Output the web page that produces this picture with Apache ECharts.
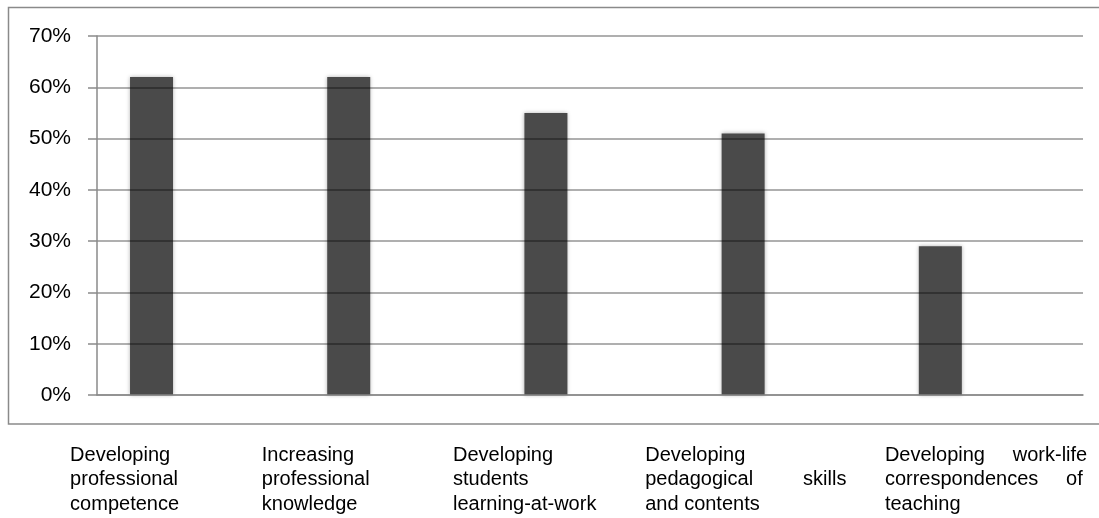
<!DOCTYPE html>
<html>
<head>
<meta charset="utf-8">
<script src="https://cdn.jsdelivr.net/npm/echarts@6/dist/echarts.min.js"></script>
<style>
  html, body { margin: 0; padding: 0; background: #ffffff; }
  #chart { width: 1099px; height: 518px; }
</style>
</head>
<body>
<div id="chart"></div>
<script>
// Category labels, broken into the lines they are printed on
// (extra spaces stretch the justified lines to the column width).
const categories = [
  'Developing\nprofessional\ncompetence',
  'Increasing\nprofessional\nknowledge',
  'Developing\nstudents\nlearning-at-work',
  'Developing\npedagogical         skills\nand contents',
  'Developing     work-life\ncorrespondences     of\nteaching'
];
// Share of respondents (%)
const shares = [62, 62, 55, 51, 29];
// Empty companion series (reserves the second slot in each category)
const emptySlot = [null, null, null, null, null];
// Value axis range and step (%)
const yMin = 0;
const yMax = 70;
const yStep = 10;

const FONT = '"Liberation Sans", Arial, Helvetica, sans-serif';
const GRID_GRAY = '#8a8a8a';

// Width of each label block (block is centred under its category)
const labelWidths = [251, 262, 274, 284, 199];
const rich = {};
labelWidths.forEach((w, i) => {
  rich['c' + i] = {
    width: w,
    align: 'left',
    fontSize: 20,
    lineHeight: 24.5,
    fontFamily: FONT,
    color: '#000000'
  };
});

const chart = echarts.init(document.getElementById('chart'), null, { renderer: 'canvas' });

chart.setOption({
  backgroundColor: '#ffffff',
  animation: false,
  graphic: [{
    type: 'rect',
    z: -10,
    silent: true,
    shape: { x: 8.5, y: 7.5, width: 1200, height: 416.5 },
    style: { fill: 'none', stroke: GRID_GRAY, lineWidth: 1.5 }
  }],
  grid: {
    left: 97,
    right: 16,
    top: 36,
    bottom: 123,
    containLabel: false,
    outerBoundsMode: 'none'
  },
  xAxis: {
    type: 'category',
    data: categories,
    z: 4,
    axisLine: { show: true, lineStyle: { color: GRID_GRAY, width: 1.5 } },
    axisTick: { show: false },
    splitLine: { show: false },
    axisLabel: {
      interval: 0,
      margin: 48,
      align: 'center',
      formatter: (value, idx) =>
        value.split('\n').map(line => '{c' + idx + '|' + line + '}').join('\n'),
      rich: rich
    }
  },
  yAxis: {
    type: 'value',
    min: yMin,
    max: yMax,
    interval: yStep,
    z: 4,
    axisLine: { show: true, lineStyle: { color: GRID_GRAY, width: 1.5 } },
    axisTick: { show: true, length: 9, inside: false, lineStyle: { color: GRID_GRAY, width: 1.5 } },
    // grid lines sit on top of the bars, darkening where they cross them
    splitLine: { show: true, lineStyle: { color: 'rgba(0,0,0,0.42)', width: 1.5 } },
    axisLabel: {
      margin: 26,
      fontSize: 21,
      fontFamily: FONT,
      color: '#000000',
      formatter: '{value}%'
    }
  },
  series: [
    {
      name: 'Share',
      type: 'bar',
      z: 1,
      data: shares,
      barWidth: 43,
      barGap: '105%',
      itemStyle: {
        color: '#4a4a4a',
        shadowBlur: 4,
        shadowColor: 'rgba(0,0,0,0.3)'
      }
    },
    {
      name: 'Empty',
      type: 'bar',
      z: 1,
      data: emptySlot,
      barWidth: 43,
      itemStyle: { color: '#4a4a4a' }
    }
  ]
});
</script>
</body>
</html>
